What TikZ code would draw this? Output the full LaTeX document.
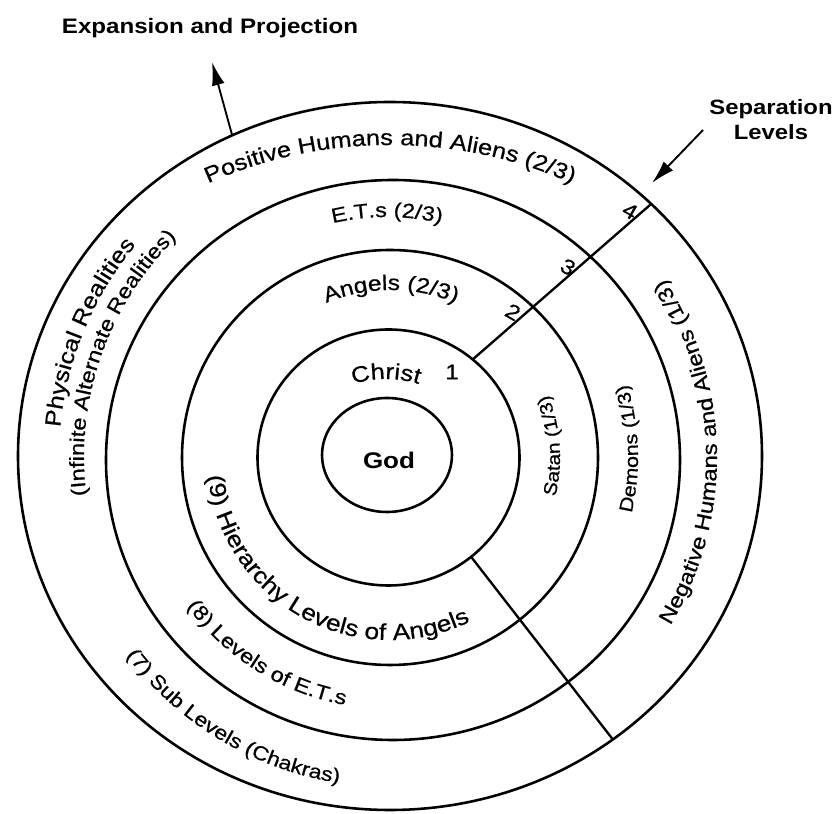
\documentclass[tikz,border=0pt]{standalone}
\usepackage{fontspec}
\setmainfont{Liberation Sans}[FakeStretch=1.15,UprightFeatures={FakeBold=0.6}]
\usetikzlibrary{decorations.text,arrows.meta}
\newcommand\fsz[1]{\fontsize{#1}{#1}\selectfont}
\tikzset{
  ring/.style={line width=2.2pt},
  sepline/.style={line width=2pt},
  ptr/.style={line width=1.6pt,-{Latex[length=20pt,width=11pt]}},
  lbl/.style={inner sep=0pt},
  arctext/.style={decorate,decoration={text along path,text align=center,text={#1}}}
}
\begin{document}
\begin{tikzpicture}[x=0.03cm,y=0.03cm]
\useasboundingbox (0,0) rectangle (836,814);
\fill[white] (0,0) rectangle (836,814);

% centres of the rings
\coordinate (O5) at (390,358);
\coordinate (O4) at (393,354);
\coordinate (O3) at (390,356.5);
\coordinate (O2) at (388.5,356.5);
\coordinate (O1) at (387,359);

% rings
\draw[ring] (O5) ellipse[x radius=372,y radius=354];
\draw[ring] (O4) ellipse[x radius=287,y radius=280];
\draw[ring] (O3) ellipse[x radius=208,y radius=207.5];
\draw[ring] (O2) ellipse[x radius=131,y radius=128];
\draw[ring] (O1) ellipse[x radius=65,y radius=57];

% separation lines
\path (O2) ++(50:131 and 128) coordinate (u1);
\path (O5) ++(45.4:372 and 354) coordinate (u4);
\path (O2) ++(-50.9:131 and 128) coordinate (l1);
\path (O5) ++(-53.2:372 and 354) coordinate (l4);
\draw[sepline] (u1) -- (u4);
\draw[sepline] (l1) -- (l4);

% outside labels and arrows
\node[lbl,font=\bfseries\fsz{17.9}] (exp) at (210,786) {Expansion and Projection};
\node[lbl,font=\bfseries\fsz{17.7},align=center] (sep) at (771,694.5) {\fsz{17.7}Separation\\[4pt]Levels};
\path (O5) ++(115.1:372 and 354) coordinate (expS);
\coordinate (expT) at (212,752);
\draw[ptr] (expS) -- (expT);
\coordinate (sepS) at (703,684);
\coordinate (sepT) at (652,631);
\draw[ptr] (sepS) -- (sepT);

% centre
\node[lbl,font=\bfseries\fsz{19.3}] (god) at (389,354) {God};
\node[lbl,font=\fsz{18}] (n1) at (452,442) {1};
\node[lbl,font=\fsz{18},rotate=-30] (n2) at (513,502) {2};
\node[lbl,font=\fsz{18},rotate=-30] (n3) at (568,547) {3};
\node[lbl,font=\fsz{18},rotate=-30] (n4) at (630,603) {4};

% ring texts (top, clockwise)
\path[arctext={|\fsz{18.8}|Positive Humans and Aliens (2/3)}]
  (390,357) ++(135:378 and 312) arc[start angle=135,end angle=45,x radius=378,y radius=312];
\path[arctext={|\fsz{17.4}|E.T.s (2/3)}]
  (387,357) ++(125:240) arc[start angle=125,end angle=55,radius=240];
\path[arctext={|\fsz{18.3}|Angels (2/3)}]
  (391,357) ++(130:167) arc[start angle=130,end angle=50,radius=167];
\path[arctext={|\fsz{19}|Christ}]
  (386,325) ++(125:110) arc[start angle=125,end angle=55,radius=110];

% right side (counter-clockwise)
\path[arctext={|\fsz{15.6}|Satan (1/3)}]
  (390,357) ++(-40:170) arc[start angle=-40,end angle=48,radius=170];
\path[arctext={|\fsz{16}|Demons (1/3)}]
  (390,357) ++(-40:248) arc[start angle=-40,end angle=44,radius=248];
\path[arctext={|\fsz{17.8}|Negative Humans and Aliens (1/3)}]
  (390,357) ++(-45:327) arc[start angle=-45,end angle=47,radius=327];

% left side (clockwise)
\path[arctext={|\fsz{19}|Physical Realities}]
  (390,357) ++(200:331) arc[start angle=200,end angle=115,radius=331];
\path[arctext={|\fsz{17.5}|(Infinite Alternate Realities)}]
  (390,357) ++(205.7:306) arc[start angle=205.7,end angle=115.7,radius=306];

% bottom left (counter-clockwise)
\path[arctext={|\fsz{19.5}|(9) Hierarchy Levels of Angels}]
  (390,357) ++(180:183) arc[start angle=180,end angle=302,radius=183];
\path[arctext={|\fsz{17.5}|(8) Levels of E.T.s}]
  (390,357) ++(190:252) arc[start angle=190,end angle=286,radius=252];
\path[arctext={|\fsz{17}|(7) Sub Levels (Chakras)}]
  (390,357) ++(190:330) arc[start angle=190,end angle=288,radius=330];
\end{tikzpicture}
\end{document}
